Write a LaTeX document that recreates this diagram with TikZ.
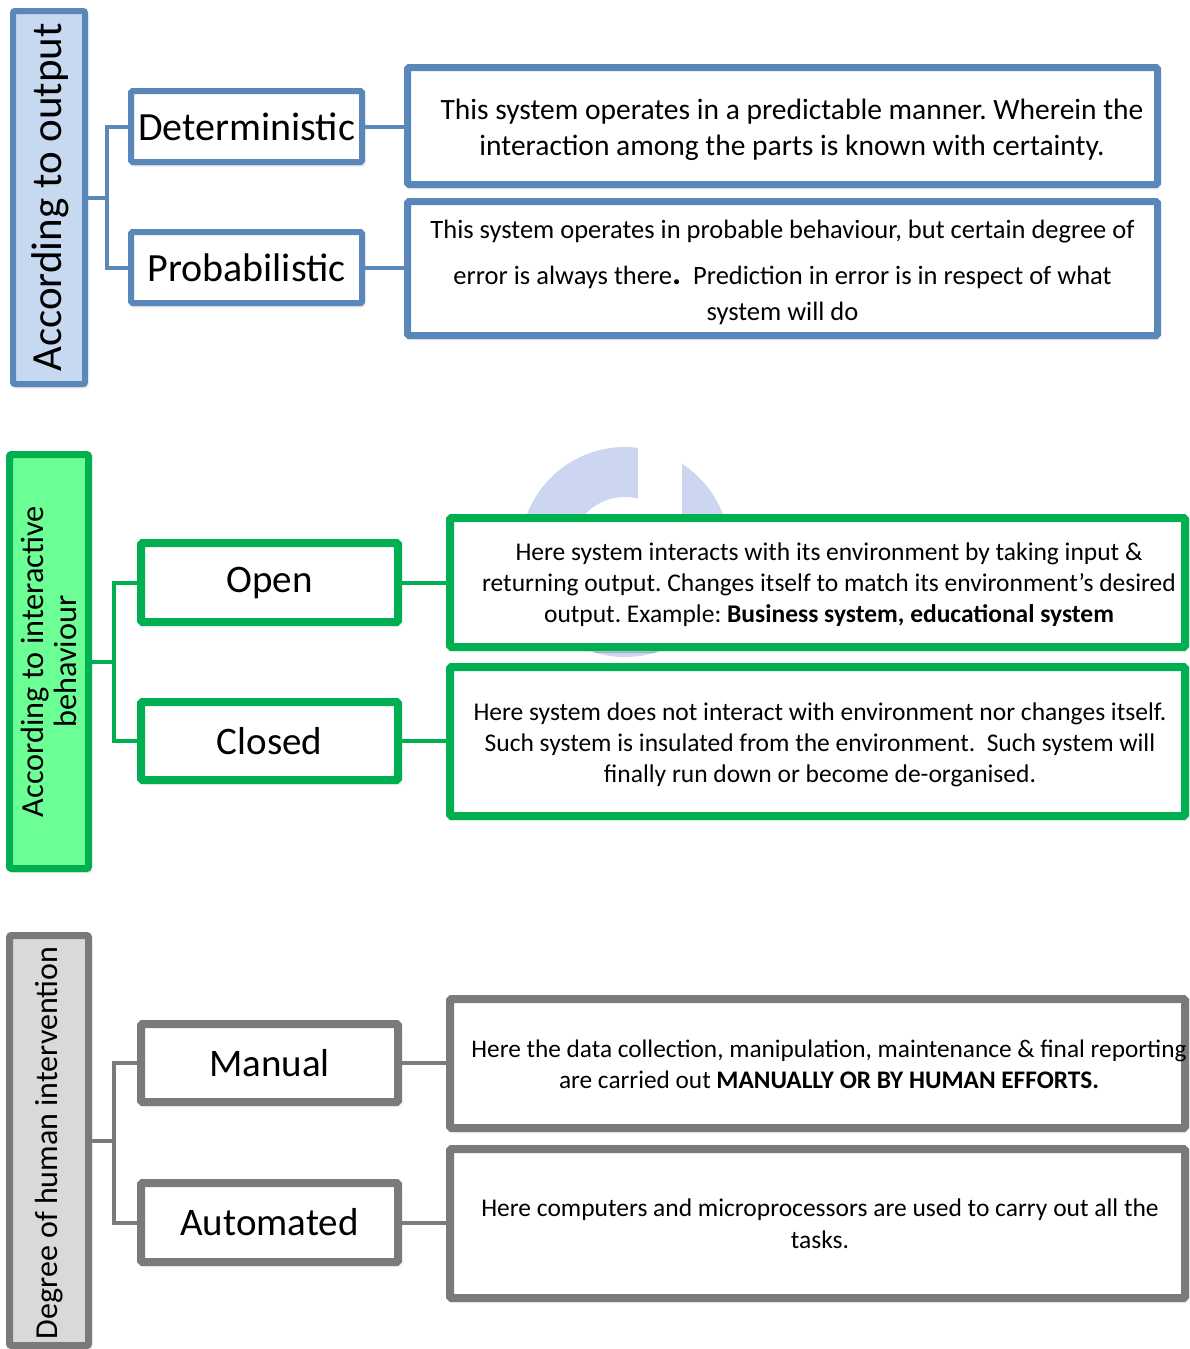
\documentclass[tikz,border=0pt]{standalone}
\usepackage{fontspec}
\setmainfont{Carlito}
\usetikzlibrary{shadows.blur,calc}
\frenchspacing

\definecolor{blueedge}{HTML}{5A87BA}
\definecolor{bluefill}{HTML}{C6D9F1}
\definecolor{greenedge}{HTML}{00B050}
\definecolor{greenfill}{HTML}{6BFF96}
\definecolor{grayedge}{HTML}{7A7A7A}
\definecolor{grayfill}{HTML}{D9D9D9}
\definecolor{wmark}{HTML}{CDD6F1}

\newcommand{\fs}[2]{\fontsize{#1}{#2}\selectfont}

\begin{document}
\begin{tikzpicture}[x=1pt,y=-1pt,
  shade/.style={blur shadow={shadow xshift=1.5pt, shadow yshift=-2.5pt,
      shadow blur radius=3pt, shadow blur steps=6, shadow opacity=35}},
  box/.style={draw, fill=white, inner sep=0pt, rounded corners=1.5pt, shade},
  titlebox/.style={box, rounded corners=2pt},
  bluebox/.style={box, draw=blueedge, line width=6pt},
  bluedesc/.style={box, draw=blueedge, line width=7pt},
  greenbox/.style={box, draw=greenedge, line width=8pt},
  graybox/.style={box, draw=grayedge, line width=8pt},
  catlabel/.style={inner sep=0pt, font=\fs{40}{48}},
  sublabel/.style={inner sep=0pt, font=\fs{39}{47}},
  desctext/.style={inner sep=0pt, align=center},
  bline/.style={draw=blueedge, line width=4pt},
  gline/.style={draw=greenedge, line width=4pt},
  kline/.style={draw=grayedge, line width=4pt},
]
\useasboundingbox (0,0) rectangle (1190,1349);

% faint logo in the background
\fill[wmark, even odd rule] (625,552) circle[radius=105] (625,552) circle[radius=55];
\fill[white] (638,430) rectangle (682,552);

% ---------- According to output ----------
\node[titlebox, draw=blueedge, fill=bluefill, line width=6pt,
      minimum width=72pt, minimum height=373pt] (out) at (49,197.5) {};
\node[rotate=90, inner sep=0pt, font=\fs{43}{50}] (outtxt) at ($(out)+(1,0)$) {According to output};

\node[bluebox, minimum width=231pt, minimum height=71pt] (det) at (246.5,126.5) {};
\node[catlabel] (dettxt) at (det) {Deterministic};
\node[bluebox, minimum width=231pt, minimum height=71pt] (prob) at (246.5,267.5) {};
\node[catlabel] (probtxt) at (prob) {Probabilistic};

\node[bluedesc, minimum width=750pt, minimum height=117pt] (d1) at (782.5,126) {};
\node[desctext, font=\fs{29.5}{36}] (d1txt) at ($(d1)+(9.5,4)$)
  {This system operates in a predictable manner. Wherein the\\
   interaction among the parts is known with certainty.};
\node[bluedesc, minimum width=750pt, minimum height=134pt] (d2) at (782.5,268.5) {};
\node[desctext, font=\fs{26.5}{36}] (d2txt) at ($(d2)+(0,4)$)
  {This system operates in probable behaviour, but certain degree of\\[10pt]
   error is always there{\fs{34}{36}\bfseries .}\ \ Prediction in error is in respect of what\\
   system will do};

\draw[bline] (out.east) -- ++(19,0) |- (det.west);
\draw[bline] (out.east) -- ++(19,0) |- (prob.west);
\draw[bline] (det.east) -- (det.east -| d1.west);
\draw[bline] (prob.east) -- (prob.east -| d2.west);

% ---------- According to interactive behaviour ----------
\node[titlebox, draw=greenedge, fill=greenfill, line width=7pt,
      minimum width=79pt, minimum height=414pt] (inter) at (49,661.5) {};
\node[rotate=90, inner sep=0pt, align=center, font=\fs{32.3}{33}] (intertxt) at (inter)
  {According to interactive\\behaviour};

\node[greenbox, minimum width=257pt, minimum height=79pt] (open) at (269.5,582.5) {};
\node[sublabel] (opentxt) at (open) {Open};
\node[greenbox, minimum width=257pt, minimum height=78pt] (closed) at (269.5,741) {};
\node[sublabel] (closedtxt) at (closed) {Closed};

\node[greenbox, minimum width=735pt, minimum height=129pt] (d3) at (817.5,582.5) {};
\node[desctext, font=\fs{25.5}{31}] (d3txt) at ($(d3)+(11.5,2.5)$)
  {Here system interacts with its environment by taking input \&\\
   returning output. Changes itself to match its environment’s desired\\
   output. Example: \textbf{Business system, educational system}};
\node[greenbox, minimum width=735pt, minimum height=149pt] (d4) at (817.5,741.5) {};
\node[desctext, font=\fs{25.5}{31}] (d4txt) at ($(d4)+(2.5,3.5)$)
  {Here system does not interact with environment nor changes itself.\\
   Such system is insulated from the environment.\ \ Such system will\\
   finally run down or become de-organised.};

\draw[gline] (inter.east) -- ++(22,0) |- (open.west);
\draw[gline] (inter.east) -- ++(22,0) |- (closed.west);
\draw[gline] (open.east) -- (open.east -| d3.west);
\draw[gline] (closed.east) -- (closed.east -| d4.west);

% ---------- Degree of human intervention ----------
\node[titlebox, draw=grayedge, fill=grayfill, line width=7pt,
      minimum width=79pt, minimum height=410pt] (human) at (49,1140.5) {};
\node[rotate=90, inner sep=0pt, font=\fs{32}{38}] (humantxt) at ($(human)+(0,2.5)$)
  {Degree of human intervention};

\node[graybox, minimum width=257pt, minimum height=78pt] (manual) at (269.5,1063) {};
\node[sublabel] (manualtxt) at (manual) {Manual};
\node[graybox, minimum width=257pt, minimum height=79pt] (auto) at (269.5,1222.5) {};
\node[sublabel] (autotxt) at (auto) {Automated};

\node[graybox, minimum width=735pt, minimum height=129pt] (d5) at (817.5,1063.5) {};
\node[desctext, font=\fs{25.3}{31}] (d5txt) at ($(d5)+(11.5,1)$)
  {Here the data collection, manipulation, maintenance \& final reporting\\
   are carried out \textbf{MANUALLY OR BY HUMAN EFFORTS.}};
\node[graybox, minimum width=735pt, minimum height=149pt] (d6) at (817.5,1223.5) {};
\node[desctext, font=\fs{25.5}{32}] (d6txt) at ($(d6)+(2.5,0)$)
  {Here computers and microprocessors are used to carry out all the\\
   tasks.};

\draw[kline] (human.east) -- ++(22,0) |- (manual.west);
\draw[kline] (human.east) -- ++(22,0) |- (auto.west);
\draw[kline] (manual.east) -- (manual.east -| d5.west);
\draw[kline] (auto.east) -- (auto.east -| d6.west);
\end{tikzpicture}
\end{document}
